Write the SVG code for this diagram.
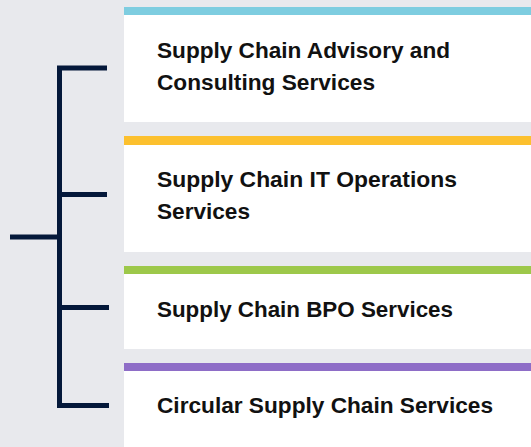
<svg xmlns="http://www.w3.org/2000/svg" width="531" height="447" viewBox="0 0 531 447">
<style>
.box{fill:#ffffff}
.lbl{font-family:"Liberation Sans",Arial,sans-serif;font-weight:700;font-size:22px;fill:#111111}
.con{stroke:#04183a;stroke-width:5;fill:none}
</style>
<rect width="531" height="447" fill="#e8e9ed"/>
<g id="connectors">
<path class="con" d="M107,68 H59.5 V405.5 H109"/>
<path class="con" d="M59.5,194.5 H107"/>
<path class="con" d="M59.5,307.5 H109"/>
<path class="con" d="M10,237 H59.5"/>
</g>
<g id="node1">
<rect class="box" x="124" y="7" width="407" height="115"/>
<rect x="124" y="7" width="407" height="8" fill="#7ecde0"/>
<text class="lbl" x="157" y="58" textLength="293" lengthAdjust="spacingAndGlyphs">Supply Chain Advisory and</text>
<text class="lbl" x="157" y="90" textLength="218" lengthAdjust="spacingAndGlyphs">Consulting Services</text>
</g>
<g id="node2">
<rect class="box" x="124" y="136" width="407" height="116"/>
<rect x="124" y="136" width="407" height="9" fill="#fcc02e"/>
<text class="lbl" x="157" y="187" textLength="300" lengthAdjust="spacingAndGlyphs">Supply Chain IT Operations</text>
<text class="lbl" x="157" y="219" textLength="93" lengthAdjust="spacingAndGlyphs">Services</text>
</g>
<g id="node3">
<rect class="box" x="124" y="266" width="407" height="83"/>
<rect x="124" y="266" width="407" height="8" fill="#9dc84a"/>
<text class="lbl" x="157" y="317" textLength="296" lengthAdjust="spacingAndGlyphs">Supply Chain BPO Services</text>
</g>
<g id="node4">
<rect class="box" x="124" y="363" width="407" height="84"/>
<rect x="124" y="363" width="407" height="8" fill="#8e6dc7"/>
<text class="lbl" x="157" y="413" textLength="336" lengthAdjust="spacingAndGlyphs">Circular Supply Chain Services</text>
</g>
</svg>
